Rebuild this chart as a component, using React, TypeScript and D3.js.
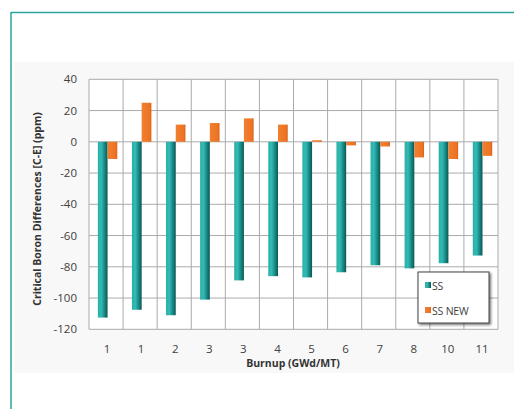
import React from "react";
import * as d3 from "d3";

const burnupLabels = ["1", "1", "2", "3", "3", "4", "5", "6", "7", "8", "10", "11"];
const ssValues = [-112.5, -107.5, -111, -101, -88.7, -86, -86.8, -83.5, -79, -81, -77.7, -72.8];
const ssNewValues = [-11, 25, 11, 12, 15, 11, 1, -2.3, -3, -10, -11, -9];
const yTicks = [40, 20, 0, -20, -40, -60, -80, -100, -120];
const seriesNames = ["SS", "SS NEW"];

const W = 514;
const H = 414;
const plot = { left: 89, right: 498, top: 79.3, bottom: 329.3 };
const font = "'Open Sans', 'Noto Sans', 'Liberation Sans', sans-serif";

export default function App() {
  const idx = burnupLabels.map((_, i) => String(i));
  const x0 = d3.scaleBand<string>().domain(idx).range([plot.left, plot.right]).padding(0);
  const bw = x0.bandwidth();
  const x1 = d3.scaleBand<string>().domain(seriesNames).range([bw * 0.26, bw * 0.83]).padding(0);
  const y = d3.scaleLinear().domain([-120, 40]).range([plot.bottom, plot.top]);

  const series = [
    { name: "SS", values: ssValues, fill: "url(#tealGrad)" },
    { name: "SS NEW", values: ssNewValues, fill: "url(#orangeGrad)" },
  ];

  return (
    <svg width={W} height={H} style={{ position: "absolute", left: 0, top: 0 }}>
      <defs>
        <linearGradient id="tealGrad" x1="0" x2="1" y1="0" y2="0">
          <stop offset="0" stopColor="#2aaea8" />
          <stop offset="0.35" stopColor="#33bab4" />
          <stop offset="0.7" stopColor="#178783" />
          <stop offset="1" stopColor="#0b5654" />
        </linearGradient>
        <linearGradient id="orangeGrad" x1="0" x2="1" y1="0" y2="0">
          <stop offset="0" stopColor="#f08030" />
          <stop offset="0.8" stopColor="#ee7424" />
          <stop offset="1" stopColor="#d9621a" />
        </linearGradient>
        <filter id="legendShadow" x="-20%" y="-20%" width="150%" height="150%">
          <feDropShadow dx="1.5" dy="1.5" stdDeviation="0.8" floodColor="#000" floodOpacity="0.55" />
        </filter>
      </defs>

      <rect x={0} y={0} width={W} height={H} fill="#ffffff" />
      {/* chart frame */}
      <rect x={14} y={62} width={500} height={311} fill="#f8f8f8" />
      <line x1={11} x2={W} y1={12.5} y2={12.5} stroke="#2aa79b" strokeWidth={1.5} />
      <line x1={11} x2={11} y1={12} y2={409} stroke="#2aa79b" strokeWidth={1.5} />

      {/* plot area */}
      <rect
        x={plot.left}
        y={plot.top}
        width={plot.right - plot.left}
        height={plot.bottom - plot.top}
        fill="#ffffff"
      />
      {yTicks.map((t) => (
        <line key={"h" + t} x1={plot.left} x2={plot.right} y1={y(t)} y2={y(t)} stroke="#ababab" strokeWidth={1} />
      ))}
      {idx.concat([String(idx.length)]).map((k, i) => {
        const xx = i < idx.length ? (x0(k) as number) : plot.right;
        return <line key={"v" + i} x1={xx} x2={xx} y1={plot.top} y2={plot.bottom} stroke="#ababab" strokeWidth={1} />;
      })}

      {/* bars */}
      {series.map((s) =>
        s.values.map((v, i) => {
          const bx = (x0(String(i)) as number) + (x1(s.name) as number);
          const y0 = y(0);
          const yv = y(v);
          return (
            <rect
              key={s.name + i}
              x={bx}
              y={Math.min(y0, yv)}
              width={x1.bandwidth()}
              height={Math.abs(yv - y0)}
              fill={s.fill}
            />
          );
        })
      )}

      {/* y tick labels */}
      {yTicks.map((t) => (
        <text
          key={"yl" + t}
          x={77}
          y={y(t)}
          dy="0.35em"
          textAnchor="end"
          fontFamily={font}
          fontSize={11.5}
          fill="#404040"
        >
          {t}
        </text>
      ))}

      {/* x tick labels */}
      {burnupLabels.map((lab, i) => (
        <text
          key={"xl" + i}
          x={(x0(String(i)) as number) + bw / 2 + 1}
          y={353}
          textAnchor="middle"
          fontFamily={font}
          fontSize={11.5}
          fill="#404040"
        >
          {lab}
        </text>
      ))}

      {/* axis titles */}
      <text
        x={293}
        y={367}
        textAnchor="middle"
        fontFamily={font}
        fontSize={10.5}
        fontWeight="bold"
        fill="#333333"
      >
        Burnup (GWd/MT)
      </text>
      <text
        transform={`translate(41, 209) rotate(-90)`}
        textAnchor="middle"
        fontFamily={font}
        fontSize={10.5}
        fontWeight="bold"
        fill="#333333"
      >
        Critical Boron Differences [C-E] (ppm)
      </text>

      {/* legend */}
      <g>
        <rect x={418} y={272} width={71} height={51} fill="#ffffff" stroke="#444444" strokeWidth={1} filter="url(#legendShadow)" />
        {series.map((s, i) => (
          <g key={"lg" + s.name}>
            <rect x={425} y={282 + i * 25} width={6} height={6} fill={s.fill} />
            <text x={432} y={289.5 + i * 25} fontFamily={font} fontSize={10.5} letterSpacing={-0.2} fill="#404040">
              {s.name}
            </text>
          </g>
        ))}
      </g>
    </svg>
  );
}
